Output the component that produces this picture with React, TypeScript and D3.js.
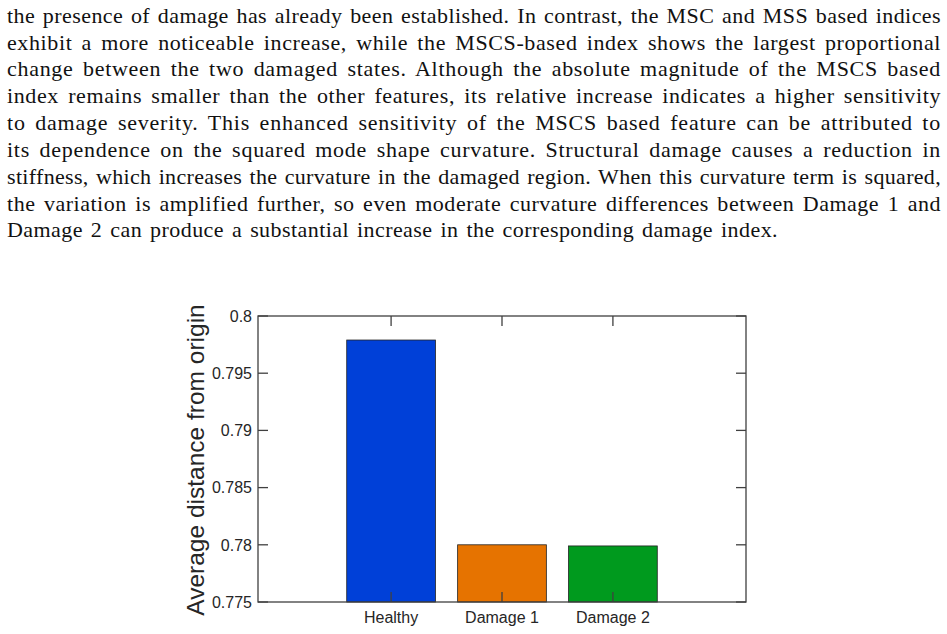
import React, { useLayoutEffect, useRef, useState } from 'react';
import * as d3 from 'd3';

const W = 947;
const H = 634;

// paragraph preceding the figure, one entry per typeset line
const paragraphLines = [
  'the presence of damage has already been established. In contrast, the MSC and MSS based indices',
  'exhibit a more noticeable increase, while the MSCS-based index shows the largest proportional',
  'change between the two damaged states. Although the absolute magnitude of the MSCS based',
  'index remains smaller than the other features, its relative increase indicates a higher sensitivity',
  'to damage severity. This enhanced sensitivity of the MSCS based feature can be attributed to',
  'its dependence on the squared mode shape curvature. Structural damage causes a reduction in',
  'stiffness, which increases the curvature in the damaged region. When this curvature term is squared,',
  'the variation is amplified further, so even moderate curvature differences between Damage 1 and',
  'Damage 2 can produce a substantial increase in the corresponding damage index.',
];

// bar chart data
const categories = ['Healthy', 'Damage 1', 'Damage 2'];
const values = [0.7979, 0.78, 0.7799];
const barColors = ['#0040d8', '#e67300', '#009a1e'];
const yTicks = [0.775, 0.78, 0.785, 0.79, 0.795, 0.8];
const yLabel = 'Average distance from origin';

const AX = { left: 258, right: 746, top: 316, bottom: 602 };
const TICK = 10;
const AXIS_COLOR = '#404040';

const TEXT_X = 7;
const TEXT_W = 934;
const LAST_W = 771;
const LETTER_SHARE = 0.6;

type Spread = { letter: number; word: number };

// justified paragraph: measure each line, split the slack between letters and word gaps
const Paragraph = () => {
  const refs = useRef<(SVGTextElement | null)[]>([]);
  const [spread, setSpread] = useState<Spread[]>(paragraphLines.map(() => ({ letter: 0, word: 0 })));

  useLayoutEffect(() => {
    const next = paragraphLines.map((line, i) => {
      const el = refs.current[i];
      if (!el) return { letter: 0, word: 0 };
      const natural = el.getComputedTextLength();
      const gaps = line.split(' ').length - 1;
      const target = i === paragraphLines.length - 1 ? LAST_W : TEXT_W;
      const slack = target - natural;
      const letter = (slack * LETTER_SHARE) / line.length;
      const word = gaps > 0 ? (slack - letter * line.length) / gaps : 0;
      return { letter, word };
    });
    setSpread(next);
  }, []);

  return (
    <g fontFamily="'Liberation Serif', 'Times New Roman', serif" fontSize={22} fill="#111">
      {paragraphLines.map((line, i) => (
        <text
          key={i}
          ref={(el) => {
            refs.current[i] = el;
          }}
          x={TEXT_X}
          y={22.7 + i * 26.83}
          style={{
            letterSpacing: `${spread[i].letter}px`,
            wordSpacing: `${spread[i].word}px`,
            whiteSpace: 'pre',
          }}
        >
          {line}
        </text>
      ))}
    </g>
  );
};

const BarChart = () => {
  const x = d3
    .scaleBand<string>()
    .domain(categories)
    .range([AX.left, AX.right])
    .paddingInner(0.2)
    .paddingOuter(0.8);

  const y = d3.scaleLinear().domain([0.775, 0.8]).range([AX.bottom, AX.top]);

  const fmt = (d: number) => String(+d.toFixed(3));

  return (
    <g fontFamily="'Liberation Sans', Arial, Helvetica, sans-serif">
      {/* bars */}
      {categories.map((c, i) => (
        <rect
          key={c}
          x={x(c)}
          y={y(values[i])}
          width={x.bandwidth()}
          height={AX.bottom - y(values[i])}
          fill={barColors[i]}
          stroke="#222"
          strokeWidth={0.8}
        />
      ))}

      {/* axes box on top of bars */}
      <rect
        x={AX.left}
        y={AX.top}
        width={AX.right - AX.left}
        height={AX.bottom - AX.top}
        fill="none"
        stroke={AXIS_COLOR}
        strokeWidth={1.3}
      />

      {/* x ticks, bottom and top, pointing inward */}
      {categories.map((c) => {
        const cx = (x(c) as number) + x.bandwidth() / 2;
        return (
          <g key={c}>
            <line x1={cx} x2={cx} y1={AX.bottom} y2={AX.bottom - TICK} stroke={AXIS_COLOR} strokeWidth={1.3} />
            <line x1={cx} x2={cx} y1={AX.top} y2={AX.top + TICK} stroke={AXIS_COLOR} strokeWidth={1.3} />
            <text x={cx} y={623} textAnchor="middle" fontSize={16} fill="#262626">
              {c}
            </text>
          </g>
        );
      })}

      {/* y ticks, left and right */}
      {yTicks.map((t) => (
        <g key={t}>
          <line x1={AX.left} x2={AX.left + TICK} y1={y(t)} y2={y(t)} stroke={AXIS_COLOR} strokeWidth={1.3} />
          <line x1={AX.right} x2={AX.right - TICK} y1={y(t)} y2={y(t)} stroke={AXIS_COLOR} strokeWidth={1.3} />
          <text x={AX.left - 6} y={y(t)} dy="0.36em" textAnchor="end" fontSize={16} fill="#262626">
            {fmt(t)}
          </text>
        </g>
      ))}

      <text
        transform={`translate(204,${(AX.top + AX.bottom) / 2 + 1}) rotate(-90)`}
        textAnchor="middle"
        fontSize={24.5}
        fill="#262626"
      >
        {yLabel}
      </text>
    </g>
  );
};

const App = () => (
  <svg
    width={W}
    height={H}
    style={{ position: 'absolute', left: 0, top: 0, background: '#fff' }}
  >
    <rect width={W} height={H} fill="#fff" />
    <Paragraph />
    <BarChart />
  </svg>
);

export default App;
